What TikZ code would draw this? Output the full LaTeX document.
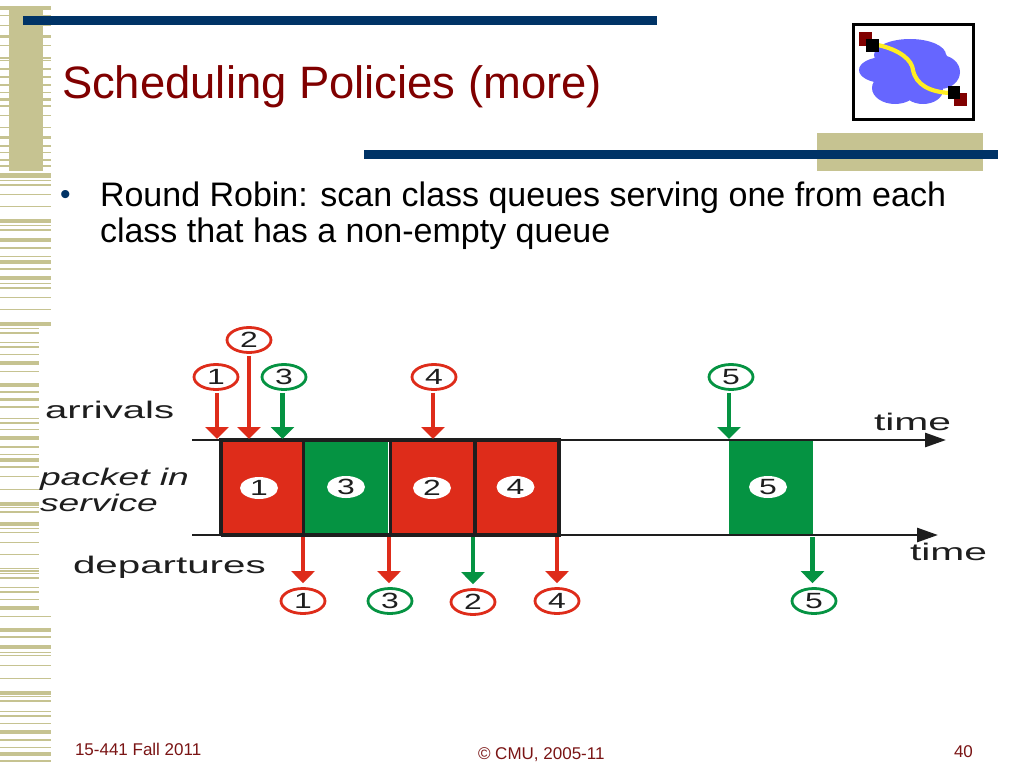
\documentclass[tikz,border=0pt]{standalone}
\usepackage{graphicx}
\usepackage{fontspec}
\setmainfont{Liberation Sans}
\usetikzlibrary{arrows.meta,calc,shapes.geometric}
\definecolor{stripetan}{HTML}{C6C391}
\definecolor{navyblue}{HTML}{003366}
\definecolor{darkmaroon}{HTML}{800000}
\definecolor{footred}{HTML}{7A1414}
\definecolor{pred}{HTML}{DE2C1A}
\definecolor{pgreen}{HTML}{059342}
\definecolor{ink}{HTML}{1E1E1E}
\definecolor{cloudblue}{HTML}{6666FF}
\definecolor{iconyellow}{HTML}{FFEE22}
\newcommand{\fsz}[1]{\fontsize{#1}{#1}\selectfont}
\newcommand{\wdt}[2]{\scalebox{#1}[1]{#2}}
\newcommand{\dig}[1]{\fsz{22}\wdt{1.45}{#1}}
\tikzset{
  txt/.style={anchor=base west,inner sep=0pt,outer sep=0pt},
  lab/.style={txt,text=ink},
  numring/.style={ellipse,draw=#1,line width=2.8pt,fill=white,minimum width=44pt,minimum height=25pt,inner sep=0pt,text=ink},
  numwhite/.style={ellipse,fill=white,minimum width=38pt,minimum height=22pt,inner sep=0pt,text=ink},
  pkt/.style={rectangle,fill=#1,minimum width=84pt,minimum height=94pt,inner sep=0pt,outer sep=0pt},
  flow/.style={draw=#1,line width=4.5pt,-{Triangle[width=23pt,length=12pt,fill=#1]},shorten <=2pt},
  timeaxis/.style={draw=ink,line width=2.8pt,-{Triangle[width=14pt,length=21pt,fill=ink]}},
  boxedge/.style={draw=ink,line width=4pt}
}
\begin{document}
\begin{tikzpicture}[x=1pt,y=-1pt]
\useasboundingbox (0,0) rectangle (1024,768);
\fill[white] (0,0) rectangle (1024,768);
% stripes
\foreach \a/\h in {6/4,15/1.2,25/1.5,35/3,45/1.5,57/1.5,60/1,68/1.5,76/2,84/1.5,92/1,98/3,105/1.5,115/1,127/1,136/2.5,145/1.5,152/1,159/2,165/1.5,173/5,180/1,184/1.5,194/1,206/1,219/4,225/1,229/1.5,238/3.5,247/1.5,256/1,260/4,268/1.5,276/4,283/1,287/1.5,297/1,309/1,322/4,616/1,628/4,636/1.5,645/4,652/1,655/1,665/1,678/1,691/3.5,696/1,700/1.5,711/1,715/1.5,723/1,730/3.5,739/1.5,747/1,752/4,760/1.5}
  \fill[stripetan] (0,\a) rectangle (51,\a+\h);
\foreach \a/\h in {328/1,332/1.5,342/1,346/1.5,354/1,361/3.5,371/1,383/4,391/1.5,398/3,406/1.5,418/1,422/1.5,429/1,436/4,446/1.5,454/1,458/4,466/1.5,476/1,489/1,502/3.5,507/1,511/1.5,522/4,528/1,532/1,542/1,554/1,568/1,570/2,573/1,577/1.5,587/1,591/1.5,599/1,606/4,616/1}
  \fill[stripetan] (0,\a) rectangle (39,\a+\h);
\fill[stripetan] (9,6) rectangle (43,171);
\fill[navyblue] (23,16) rectangle (657,25);
\fill[stripetan] (817,133) rectangle (983,171);
\fill[navyblue] (364,150) rectangle (998,159);
% icon
\fill[white] (853,25) rectangle (973,119);
\fill[cloudblue] (910,55) ellipse (36 and 16) (884,70) ellipse (25 and 13) (895,88) ellipse (23 and 16)
  (923,90) ellipse (20 and 14) (940,72) ellipse (20 and 17) (912,70) ellipse (40 and 26) (935,62) ellipse (13 and 15);
\draw[iconyellow,line width=4.2pt] (878,45) .. controls (900,50) and (912,60) .. (913,70) .. controls (916,85) and (930,92) .. (950,93);
\fill[darkmaroon] (859,32) rectangle (872,46);
\fill[black] (866,39) rectangle (879,52);
\fill[darkmaroon] (954,93) rectangle (967,106);
\fill[black] (948,86) rectangle (960,99);
\draw[black,line width=3pt] (853,25) rectangle (973,119);
% texts
\node[txt,text=darkmaroon] (title) at (62,98) {\fsz{45.4}Scheduling Policies (more)};
\node[txt,text=navyblue] (bullet) at (60,204) {\fsz{30}•};
\node[txt] (l1) at (100,206) {\fsz{34}Round Robin: scan class queues serving one from each};
\node[txt] (l2) at (100,242) {\fsz{34}class that has a non-empty queue};
\node[txt,text=footred] (f1) at (75,755) {\fsz{17}15-441 Fall 2011};
\node[txt,text=footred] (f2) at (478,759) {\fsz{17}© CMU, 2005-11};
\node[txt,text=footred] (f3) at (954,757) {\fsz{17}40};
% packets
\node[pkt=pred] (p1) at (262,487.5) {};
\node[pkt=pgreen] (p3) at (346,487.5) {};
\node[pkt=pred] (p2) at (433,487.5) {};
\node[pkt=pred] (p4) at (517,487.5) {};
\node[pkt=pgreen] (p5) at (771,487.5) {};
% axes
\coordinate (ts) at (192,440);\coordinate (te) at (946,440);
\coordinate (bs) at (192,535);\coordinate (be) at (938,535);
\draw[timeaxis] (ts) -- (te);
\draw[timeaxis] (bs) -- (be);
\coordinate (e0t) at (221,440);\coordinate (e0b) at (221,535);
\coordinate (e1t) at (303,440);\coordinate (e1b) at (303,535);
\coordinate (e2t) at (390,440);\coordinate (e2b) at (390,535);
\coordinate (e3t) at (475,440);\coordinate (e3b) at (475,535);
\coordinate (e4t) at (559,440);\coordinate (e4b) at (559,535);
\draw[boxedge] (e0b) -- (e0t) -- (e4t) -- (e4b) -- (e0b);
\draw[boxedge,line width=3pt] (e1t) -- (e1b);
\draw[boxedge,line width=3pt] (e2t) -- (e2b);
\draw[boxedge] (e3t) -- (e3b);
% labels in packets
\node[numwhite] (w1) at (259,488) {\dig{1}};
\node[numwhite] (w3) at (346,487) {\dig{3}};
\node[numwhite] (w2) at (432,488) {\dig{2}};
\node[numwhite] (w4) at (515.5,487) {\dig{4}};
\node[numwhite] (w5) at (768,487) {\dig{5}};
% arrivals
\node[numring=pred] (a1) at (216,377) {\dig{1}};
\node[numring=pred] (a2) at (249,340) {\dig{2}};
\node[numring=pgreen] (a3) at (284,377) {\dig{3}};
\node[numring=pred] (a4) at (434,377) {\dig{4}};
\node[numring=pgreen] (a5) at (731,377) {\dig{5}};
\coordinate (t1) at (217,439);\coordinate (t2) at (249,439);\coordinate (t3) at (282.5,439);
\coordinate (t4) at (433,439);\coordinate (t5) at (729,439);
\draw[flow=pred] (t1 |- a1.south) -- (t1);
\draw[flow=pred] (t2 |- a2.south) -- (t2);
\draw[flow=pgreen] (t3 |- a3.south) -- (t3);
\draw[flow=pred] (t4 |- a4.south) -- (t4);
\draw[flow=pgreen] (t5 |- a5.south) -- (t5);
% departures
\node[numring=pred] (d1) at (303,601) {\dig{1}};
\node[numring=pgreen] (d3) at (390,601) {\dig{3}};
\node[numring=pred] (d2) at (473,602) {\dig{2}};
\node[numring=pred] (d4) at (557,601) {\dig{4}};
\node[numring=pgreen] (d5) at (814,601) {\dig{5}};
\coordinate (s1) at (303,537);\coordinate (s3) at (389,537);\coordinate (s2) at (473,537);
\coordinate (s4) at (557,537);\coordinate (s5) at (812.5,537);
\tikzset{flowd/.style={flow=#1,shorten <=0pt,shorten >=4pt}}
\draw[flowd=pred] (s1) -- (s1 |- d1.north);
\draw[flowd=pred] (s3) -- (s3 |- d3.north);
\draw[flowd=pgreen] (s2) -- (s2 |- d2.north);
\draw[flowd=pred] (s4) -- (s4 |- d4.north);
\draw[flowd=pgreen] (s5) -- (s5 |- d5.north);
% side labels
\node[lab] (la) at (45,418) {\fsz{24}\wdt{1.67}{arrivals}};
\node[lab] (lb) at (40,485) {\fsz{24}\wdt{1.55}{\itshape packet in}};
\node[lab] (lc) at (40,511) {\fsz{24}\wdt{1.55}{\itshape service}};
\node[lab] (ld) at (73,573) {\fsz{24}\wdt{1.68}{departures}};
\node[lab] (le) at (874,430) {\fsz{24}\wdt{1.7}{time}};
\node[lab] (lf) at (910,560) {\fsz{24}\wdt{1.7}{time}};
\end{tikzpicture}
\end{document}
